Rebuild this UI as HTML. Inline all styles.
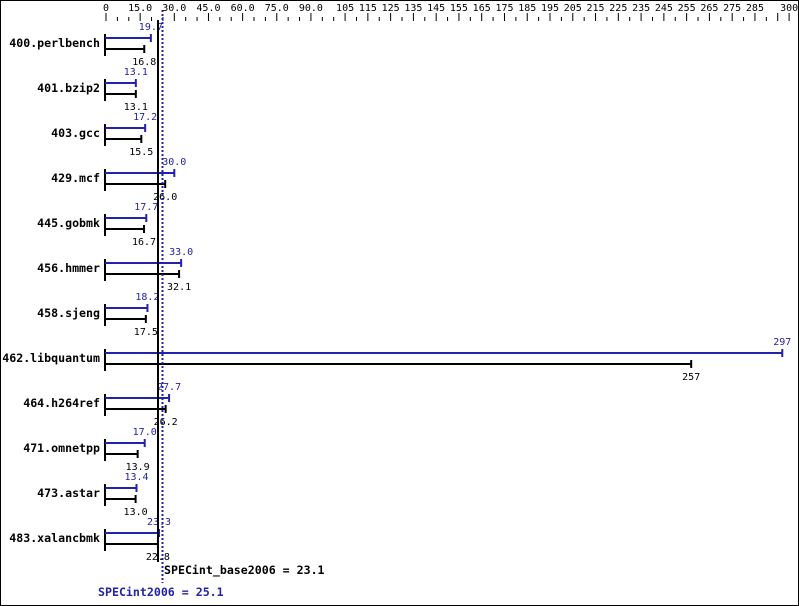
<!DOCTYPE html><html><head><style>body{margin:0;background:#fff}svg{display:block}text{font-family:"DejaVu Sans Mono","Liberation Mono",monospace;font-size:10px}text.b{font-size:11.6px;font-weight:bold}</style></head><body>
<svg id="s" width="799" height="606" xmlns="http://www.w3.org/2000/svg">
<rect x="0.5" y="0.5" width="798" height="605" fill="#fff" stroke="#000"/>
</svg>
<script>
const s=document.getElementById('s');const NS='http://www.w3.org/2000/svg';
function el(t,a,txt){const e=document.createElementNS(NS,t);for(const k in a)e.setAttribute(k,a[k]);if(txt!=null)e.textContent=txt;s.appendChild(e);return e;}
const X=v=>106+v*2.277;
const labs=[0,15,30,45,60,75,90];for(let v=105;v<=285;v+=10)labs.push(v);labs.push(300);
labs.forEach(v=>{el('text',{x:X(v),y:11,'text-anchor':'middle'},v<100&&v>0?v.toFixed(1):String(v));});
const maj=[0,15,30,45,60,75,90];for(let v=105;v<=295;v+=10)maj.push(v);maj.push(300);
maj.forEach(v=>el('line',{x1:X(v),y1:13,x2:X(v),y2:21,stroke:'#000'}));
const mn=[];for(let v=5;v<105;v+=5)if(v%15)mn.push(v);for(let v=110;v<300;v+=10)mn.push(v);
mn.forEach(v=>el('line',{x1:X(v),y1:17,x2:X(v),y2:21,stroke:'#000'}));
const d=[["400.perlbench",19.7,16.8],["401.bzip2",13.1,13.1],["403.gcc",17.2,15.5],["429.mcf",30.0,26.0],["445.gobmk",17.7,16.7],["456.hmmer",33.0,32.1],["458.sjeng",18.2,17.5],["462.libquantum",297,257],["464.h264ref",27.7,26.2],["471.omnetpp",17.0,13.9],["473.astar",13.4,13.0],["483.xalancbmk",23.3,22.8]];
d.forEach((r,i)=>{const y=43+i*45;
el('text',{x:100,y:y+4,'text-anchor':'end','class':'b'},r[0]);
el('line',{x1:105,y1:y-9,x2:105,y2:y+13,stroke:'#000','stroke-width':2});
const pb=X(r[1]),bb=X(r[2]);
el('line',{x1:105,y1:y-5,x2:pb,y2:y-5,stroke:'#2222aa','stroke-width':2});
el('line',{x1:pb,y1:y-9,x2:pb,y2:y-1,stroke:'#2222aa','stroke-width':2});
el('line',{x1:105,y1:y+6,x2:bb,y2:y+6,stroke:'#000','stroke-width':2});
el('line',{x1:bb,y1:y+2,x2:bb,y2:y+10,stroke:'#000','stroke-width':2});
const f=v=>v>=100?String(v):v.toFixed(1);
el('text',{x:pb,y:y-13,'text-anchor':'middle',fill:'#2222aa'},f(r[1]));
el('text',{x:bb,y:y+22,'text-anchor':'middle'},f(r[2]));
});
el('line',{x1:158,y1:20,x2:158,y2:562,stroke:'#000','stroke-width':2});
el('line',{x1:162.5,y1:10,x2:162.5,y2:583,stroke:'#2222aa','stroke-width':2,'stroke-dasharray':'2,2'});
el('text',{x:164,y:574,'class':'b'},'SPECint_base2006 = 23.1');
el('text',{x:98,y:596,'class':'b',fill:'#2222aa'},'SPECint2006 = 25.1');
</script></body></html>
